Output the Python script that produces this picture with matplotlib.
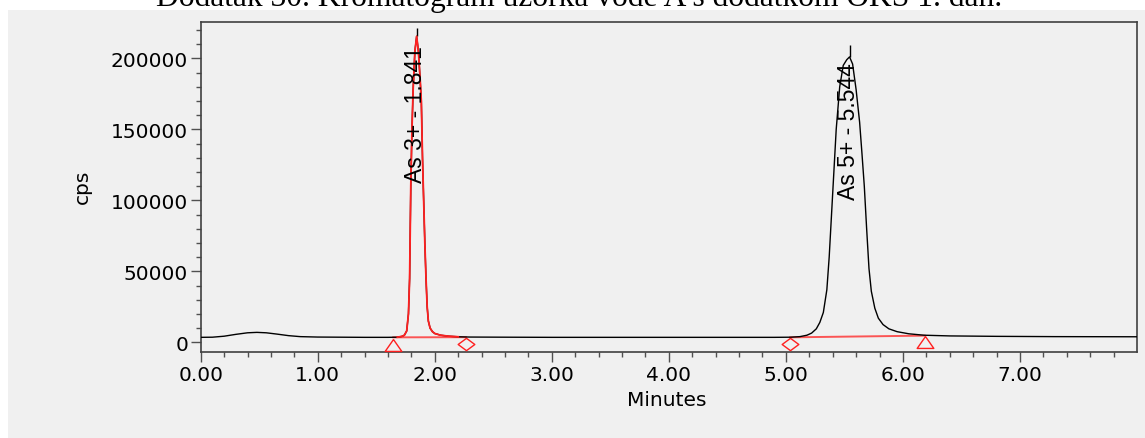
import matplotlib
matplotlib.use("Agg")
import matplotlib.pyplot as plt
from matplotlib import font_manager
from matplotlib.patches import Rectangle

# ── Data ────────────────────────────────────────────────────────────────────
TIME = [0.00, 0.10, 0.20, 0.30, 0.40, 0.48, 0.56, 0.65, 0.75, 0.85, 1.00, 1.20,
        1.40, 1.60, 1.68, 1.72, 1.74, 1.76, 1.775, 1.785, 1.795, 1.805, 1.815,
        1.83, 1.845, 1.86, 1.875, 1.885, 1.895, 1.905, 1.915, 1.925, 1.935,
        1.945, 1.96, 1.98, 2.00, 2.05, 2.12, 2.20, 2.30, 2.60, 3.00, 3.50,
        4.00, 4.50, 4.90, 5.04, 5.12, 5.18, 5.22, 5.26, 5.29, 5.32, 5.35,
        5.37, 5.39, 5.41, 5.43, 5.46, 5.49, 5.52, 5.544, 5.57, 5.60, 5.63,
        5.65, 5.67, 5.69, 5.71, 5.73, 5.76, 5.79, 5.83, 5.88, 5.95, 6.05,
        6.18, 6.40, 6.80, 7.30, 8.00]
CPS = [3500, 3600, 4300, 5600, 6700, 7000, 6700, 5800, 4700, 4000, 3700, 3600,
       3500, 3500, 3600, 4200, 5000, 8000, 20000, 45000, 110000, 150000, 178000,
       205000, 215500, 205000, 185000, 170000, 130000, 100000, 70000, 45000, 25000,
       15000, 10000, 7500, 6200, 5000, 4300, 3900, 3700, 3600, 3500, 3500,
       3500, 3500, 3500, 3600, 4000, 5000, 6500, 9500, 14000, 21000, 37000,
       60000, 90000, 120000, 150000, 180000, 195000, 199000, 201000, 196000, 178000, 155000,
       133000, 110000, 80000, 52000, 36000, 24000, 17000, 12500, 9500, 7500, 6000,
       5000, 4500, 4200, 4000, 3900]

PEAK_LABELS = ["As 3+ - 1.841", "As 5+ - 5.544"]
PEAK_RT = [1.845, 5.544]
PEAK_APEX = [215500, 201000]
PEAK_MARK_TOP = [221000, 209500]
LABEL_POS = [(1.836, 112700), (5.535, 100800)]

# integration window of the first (fitted) peak
FIT_START, FIT_END = 1.645, 2.266
# integration baselines: (t_start, cps_start, t_end, cps_end)
BASELINES = [(1.645, 3500, 2.266, 3600), (5.037, 3500, 6.185, 4700)]
START_MARKS = [(1.645, -1550), (6.185, 200)]      # triangles
END_MARKS = [(2.266, -1400), (5.037, -1200)]      # diamonds

X_TICKS = [0, 1, 2, 3, 4, 5, 6, 7]
Y_TICKS = [0, 50000, 100000, 150000, 200000]

# ── Fonts ───────────────────────────────────────────────────────────────────
installed = {f.name for f in font_manager.fontManager.ttflist}
if "Liberation Sans Narrow" in installed:
    peak_family, peak_size = "Liberation Sans Narrow", 20
else:
    peak_family, peak_size = "Liberation Sans", 16.5
AX_FONT = "DejaVu Sans"

GREY = "#f0f0f0"
RED = "#ff2020"

fig = plt.figure(figsize=(11.45, 4.39), dpi=100, facecolor="white")
fig.patches.append(Rectangle((8 / 1145, 0), 1, 428 / 439, transform=fig.transFigure,
                             facecolor=GREY, edgecolor="none", zorder=-5))
fig.text(0.5057, 1 - 6 / 439, "Dodatak 30. Kromatogram uzorka vode A s dodatkom OKS 1. dan.",
         ha="center", va="baseline", fontsize=22.7, family="Liberation Serif", zorder=-4)

ax = fig.add_axes([0.1753, 0.1952, 0.8177, 0.7517])
ax.set_facecolor(GREY)

ax.plot(TIME, CPS, color="black", lw=1.0, zorder=3)
fit_t = [t for t in TIME if FIT_START <= t <= FIT_END]
fit_c = [c for t, c in zip(TIME, CPS) if FIT_START <= t <= FIT_END]
ax.plot(fit_t, fit_c, color=RED, lw=1.3, zorder=4)
ax.vlines(PEAK_RT, PEAK_APEX, PEAK_MARK_TOP, color="black", lw=1.0, zorder=3)

for t0, c0, t1, c1 in BASELINES:
    ax.plot([t0, t1], [c0, c1], color=RED, lw=1.4, alpha=0.75, zorder=2)

tri = [(0, 1), (-1.4, -1), (1.4, -1), (0, 1)]
dia = [(0, 1), (1.35, 0), (0, -1), (-1.35, 0), (0, 1)]
ax.plot([m[0] for m in START_MARKS], [m[1] for m in START_MARKS], ls="none",
        marker=tri, ms=12, mfc="none", mec=RED, mew=1.0, zorder=5, clip_on=False)
ax.plot([m[0] for m in END_MARKS], [m[1] for m in END_MARKS], ls="none",
        marker=dia, ms=12, mfc="none", mec=RED, mew=1.0, zorder=5, clip_on=False)

for lbl, (x, y) in zip(PEAK_LABELS, LABEL_POS):
    ax.text(x, y, lbl, rotation=90, ha="center", va="bottom",
            fontsize=peak_size, family=peak_family, zorder=6)

ax.set_xlim(0, 8.0)
ax.set_ylim(-7040, 225350)
ax.set_xticks(X_TICKS)
ax.set_xticklabels([f"{v:.2f}" for v in X_TICKS])
ax.set_xticks([i * 0.2 for i in range(40)], minor=True)
ax.set_yticks(Y_TICKS)
ax.set_yticklabels([str(v) for v in Y_TICKS])
ax.set_yticks(range(0, 230000, 10000), minor=True)

for sp in ax.spines.values():
    sp.set_color("#404040")
    sp.set_linewidth(1.2)
ax.tick_params(which="major", length=7.5, width=1.0, color="#505050",
               labelsize=14.5, pad=1.5)
ax.tick_params(which="minor", length=3.6, width=1.0, color="#505050")
for lab in ax.get_xticklabels() + ax.get_yticklabels():
    lab.set_family(AX_FONT)

ax.set_xlabel("Minutes", fontsize=14.5, family=AX_FONT)
ax.xaxis.set_label_coords(0.498, -0.1415)
ax.xaxis.label.set_va("center")
ax.set_ylabel("cps", fontsize=14.5, family=AX_FONT)
ax.yaxis.set_label_coords(-0.1268, 0.504)
ax.yaxis.label.set_va("center")

fig.savefig("out.png", dpi=100, facecolor=fig.get_facecolor())
